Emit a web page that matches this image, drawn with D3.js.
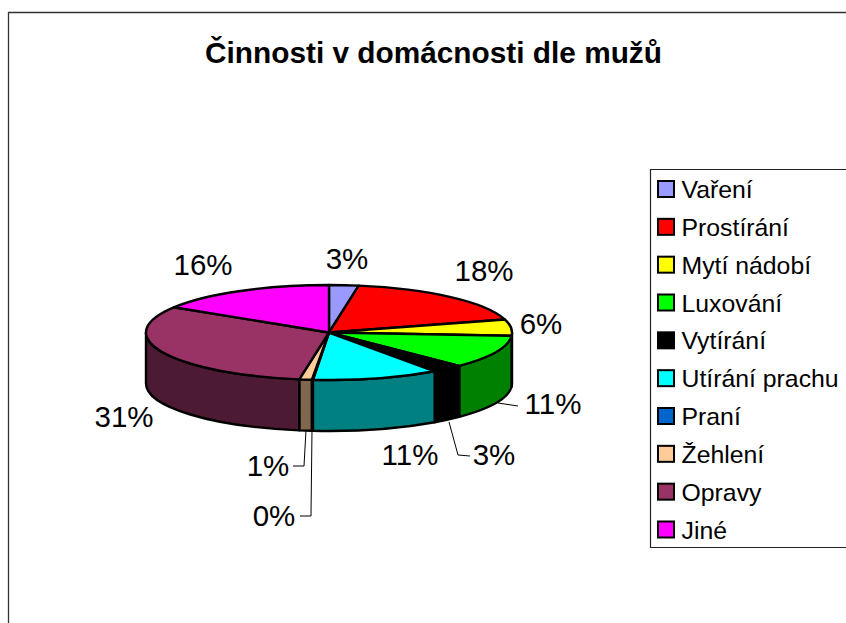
<!DOCTYPE html>
<html>
<head>
<meta charset="utf-8">
<script src="https://cdn.jsdelivr.net/npm/d3@7"></script>
<style>
  html, body { margin: 0; padding: 0; background: #fff; overflow: hidden; }
  text { font-family: "Liberation Sans", Arial, sans-serif; fill: #000; }
</style>
</head>
<body>
<div id="chart"></div>
<script>
const title = "Činnosti v domácnosti dle mužů";
const categories = ["Vaření", "Prostírání", "Mytí nádobí", "Luxování", "Vytírání", "Utírání prachu", "Praní", "Žehlení", "Opravy", "Jiné"];
const values = [2.6, 18.0, 5.5, 11.3, 2.8, 11.2, 0.1, 1.1, 31.3, 16.1];
const topColors = ["#9999ff", "#ff0000", "#ffff00", "#00ff00", "#000000", "#00ffff", "#0066cc", "#ffcc99", "#993366", "#ff00ff"];
const sideColors = ["#4d4d80", "#800000", "#808000", "#008000", "#000000", "#008080", "#003366", "#80664d", "#4d1a33", "#800080"];

// label placement: [x, baseline]
const labelPos = [[347, 269], [484, 281], [541, 334], [553, 414], [494, 465], [410, 465], [274, 526], [268, 476], [124, 427], [203, 275]];
// leader lines for the labels that sit away from the pie
const leaders = [
  [[498, 403], [518, 406]],
  [[449, 422], [458, 455], [470, 456]],
  [[306, 430], [304, 466], [293, 466]],
  [[312, 430], [311, 516], [300, 516]]
];

const c = { width: 846, height: 623, cx: 329, cy: 332.5, rx: 183, ry: 47.5, depth: 51 };

const svg = d3.select("#chart").append("svg")
  .attr("width", c.width)
  .attr("height", c.height)
  .style("display", "block");

// chart frame runs off the page on the right and bottom
svg.append("path")
  .attr("d", `M8.5,${c.height} V12.5 H${c.width}`)
  .attr("fill", "none")
  .attr("stroke", "#333")
  .attr("stroke-width", 1.3);

svg.append("text")
  .attr("x", 433.5)
  .attr("y", 63)
  .attr("text-anchor", "middle")
  .attr("font-size", 29.8)
  .attr("font-weight", "bold")
  .text(title);

const slices = d3.pie().sort(null)(values);

function pt(a, dy = 0) {
  return [c.cx + c.rx * Math.sin(a), c.cy - c.ry * Math.cos(a) + dy];
}

// side walls, only the front half of the pie shows
const sides = svg.append("g");
slices.forEach((s, i) => {
  const a0 = Math.max(s.startAngle, Math.PI / 2);
  const a1 = Math.min(s.endAngle, 3 * Math.PI / 2);
  if (a1 <= a0) return;
  const p0 = pt(a0), p1 = pt(a1), q0 = pt(a0, c.depth), q1 = pt(a1, c.depth);
  sides.append("path")
    .attr("d", `M${p0} A${c.rx},${c.ry} 0 0 1 ${p1} L${q1} A${c.rx},${c.ry} 0 0 0 ${q0} Z`)
    .attr("fill", sideColors[i])
    .attr("stroke", "#000")
    .attr("stroke-width", 2.4)
    .attr("stroke-linejoin", "round");
});

// top face: circular d3 arcs squashed into the ellipse
const arc = d3.arc().innerRadius(0).outerRadius(c.rx);
svg.append("g")
  .attr("transform", `translate(${c.cx},${c.cy}) scale(1,${c.ry / c.rx})`)
  .selectAll("path")
  .data(slices)
  .join("path")
  .attr("d", arc)
  .attr("fill", (d, i) => topColors[i])
  .attr("stroke", "#000")
  .attr("stroke-width", 2.4)
  .attr("stroke-linejoin", "round")
  .attr("vector-effect", "non-scaling-stroke");

svg.append("g")
  .selectAll("path")
  .data(leaders)
  .join("path")
  .attr("d", d3.line())
  .attr("fill", "none")
  .attr("stroke", "#000")
  .attr("stroke-width", 1);

svg.append("g")
  .selectAll("text")
  .data(values)
  .join("text")
  .attr("x", (d, i) => labelPos[i][0])
  .attr("y", (d, i) => labelPos[i][1])
  .attr("text-anchor", "middle")
  .attr("font-size", 29.5)
  .text(d => Math.round(d) + "%");

// legend box, also cut by the page edge
svg.append("path")
  .attr("d", `M${c.width},169.5 H650.5 V547.5 H${c.width}`)
  .attr("fill", "#fff")
  .attr("stroke", "#222")
  .attr("stroke-width", 1.2);

const yLegend = d3.scalePoint().domain(categories).range([189, 529.5]);

const legend = svg.append("g")
  .selectAll("g")
  .data(categories)
  .join("g")
  .attr("transform", d => `translate(0,${yLegend(d)})`);

legend.append("rect")
  .attr("x", 658)
  .attr("y", -8)
  .attr("width", 16)
  .attr("height", 16)
  .attr("fill", (d, i) => topColors[i])
  .attr("stroke", "#000")
  .attr("stroke-width", 2);

legend.append("text")
  .attr("x", 681.5)
  .attr("y", 9)
  .attr("font-size", 24.8)
  .text(d => d);
</script>
</body>
</html>
